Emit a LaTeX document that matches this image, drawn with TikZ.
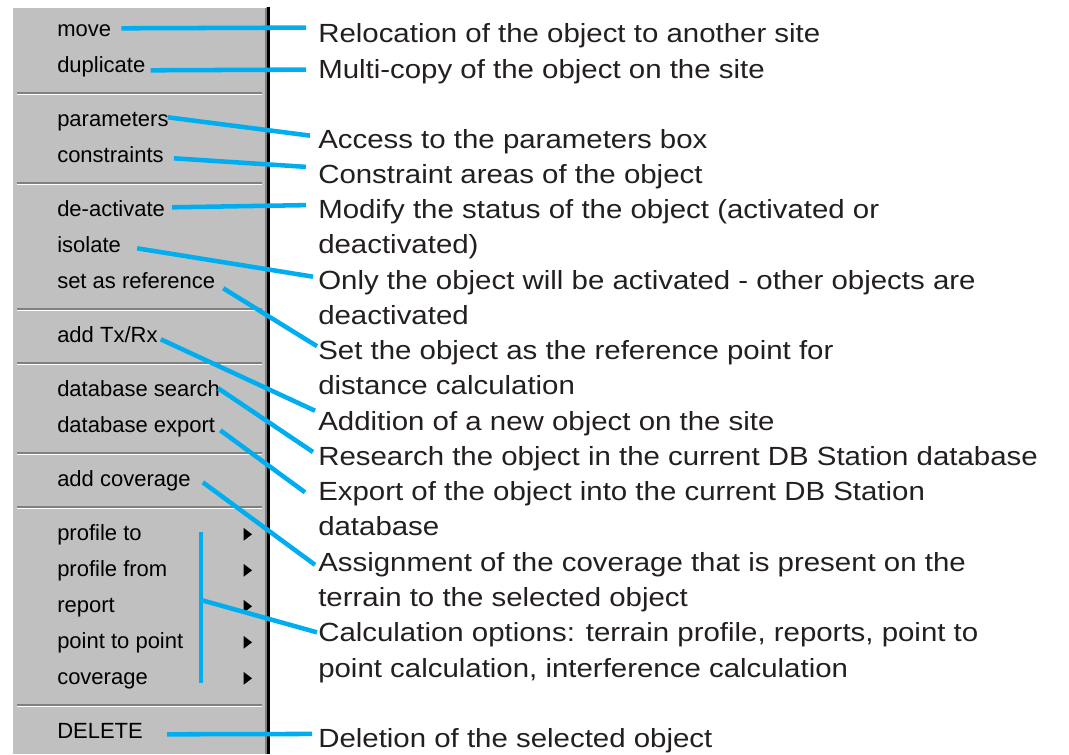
\documentclass[tikz,border=0pt]{standalone}
\usepackage{fontspec}
\usepackage{tikz}
\usetikzlibrary{calc,positioning}

\newfontfamily\menufont{Liberation Sans}
\newfontfamily\descfont[FakeStretch=1.12]{Liberation Sans}
\definecolor{menugray}{HTML}{C0C0C0}
\definecolor{menudark}{HTML}{808080}
\definecolor{linkblue}{HTML}{00AEEF}
\definecolor{textdark}{HTML}{231F20}

\begin{document}
\begin{tikzpicture}[x=0.75pt, y=-0.75pt,
  item/.style={inner sep=0pt, anchor=west, text height=12pt, text depth=3.5pt,
    font=\menufont\fontsize{16.5pt}{18pt}\selectfont},
  nextitem/.style={item, below=27pt of #1.west, anchor=west},
  nextgroup/.style={item, below=40.5pt of #1.west, anchor=west},
  desc/.style={inner sep=0pt, anchor=west, text height=14.1pt, text depth=0pt,
    text=textdark, font=\descfont\fontsize{19.7pt}{24pt}\selectfont},
  nextline/.style={desc, below=26.45pt of #1.west, anchor=west},
  link/.style={draw=linkblue, line width=3.4pt}]

\useasboundingbox (0,0) rectangle (1069,754);

%menu panel
\fill[menugray] (12,7) rectangle (270,754);
\draw[white, line width=1pt] (12.7,754) -- (12.7,7.7) -- (266,7.7);
\fill[menudark] (264.5,8) rectangle (267,754);
\fill[black] (267,7) rectangle (270,754);
\foreach \y in {93,183,309,363,453,507,705}{
  \draw[menudark, line width=0.9pt] (17,\y) -- (262,\y);
  \draw[white, line width=0.9pt] (17,\y+1.6) -- (262,\y+1.6);
}

%menu items
\node [item] (m1) at (57,31.3) {move};
\node [nextitem=m1] (m2) {duplicate};
\node [nextgroup=m2] (m3) {parameters};
\node [nextitem=m3] (m4) {constraints};
\node [nextgroup=m4] (m5) {de-activate};
\node [nextitem=m5] (m6) {isolate};
\node [nextitem=m6] (m7) {set as reference};
\node [nextgroup=m7] (m8) {add Tx/Rx};
\node [nextgroup=m8] (m9) {database search};
\node [nextitem=m9] (m10) {database export};
\node [nextgroup=m10] (m11) {add coverage};
\node [nextgroup=m11] (m12) {profile to};
\node [nextitem=m12] (m13) {profile from};
\node [nextitem=m13] (m14) {report};
\node [nextitem=m14] (m15) {point to point};
\node [nextitem=m15] (m16) {coverage};
\node [nextgroup=m16] (m17) {DELETE};

%submenu arrows
\coordinate (tri) at (243.5,0);
\foreach \n in {m12,m13,m14,m15,m16}
  \fill (\n.center -| tri) ++(0,-7.5) -- ++(0,13) -- ++(8.5,-6.5) -- cycle;

%descriptions
\node [desc] (d1) at (318,32.6) {Relocation of the object to another site};
\node [desc, below=27pt of d1.west, anchor=west] (d2) {Multi-copy of the object on the site};
\node [desc, below=52.5pt of d2.west, anchor=west] (d3) {Access to the parameters box};
\node [nextline=d3] (d4) {Constraint areas of the object};
\node [nextline=d4] (d5) {Modify the status of the object (activated or};
\node [nextline=d5] (d6) {deactivated)};
\node [nextline=d6] (d7) {Only the object will be activated - other objects are};
\node [nextline=d7] (d8) {deactivated};
\node [nextline=d8] (d9) {Set the object as the reference point for};
\node [nextline=d9] (d10) {distance calculation};
\node [nextline=d10] (d11) {Addition of a new object on the site};
\node [nextline=d11] (d12) {Research the object in the current DB Station database};
\node [nextline=d12] (d13) {Export of the object into the current DB Station};
\node [nextline=d13] (d14) {database};
\node [nextline=d14] (d15) {Assignment of the coverage that is present on the};
\node [nextline=d15] (d16) {terrain to the selected object};
\node [nextline=d16] (d17) {Calculation options: terrain profile, reports, point to};
\node [nextline=d17] (d18) {point calculation, interference calculation};
\node [desc, below=52.75pt of d18.west, anchor=west] (d19) {Deletion of the selected object};

%connectors
\foreach \a/\sx/\sy/\b/\ex/\ey in {m1/10/-3/d1/-12/-5, m2/5/3/d2/-12/1,
    m3/-1/-4/d3/-8/-3, m4/10/1/d4/-12/-7, m5/7/-4/d5/-12/-4,
    m6/16/1/d7/-5/-3, m7/8/5/d9/-1/-4, m8/3/2/d11/-3/-10,
    m9/-2/-3/d12/-5/-4, m10/5/3/d13/-13/1, m11/12/1/d15/-3/3,
    m17/24/1/d19/-6/-4}
  \path [link] ($(\a.east)+(\sx,\sy)$) -- ($(\b.west)+(\ex,\ey)$);

%bracket for the calculation submenus
\coordinate (b1) at (201,532);
\coordinate (b2) at (201,683);
\coordinate (b0) at (201,600);
\path [link] (b1) -- (b2);
\path [link] (b0) -- ($(d17.west)+(-1,0)$);

\end{tikzpicture}
\end{document}
